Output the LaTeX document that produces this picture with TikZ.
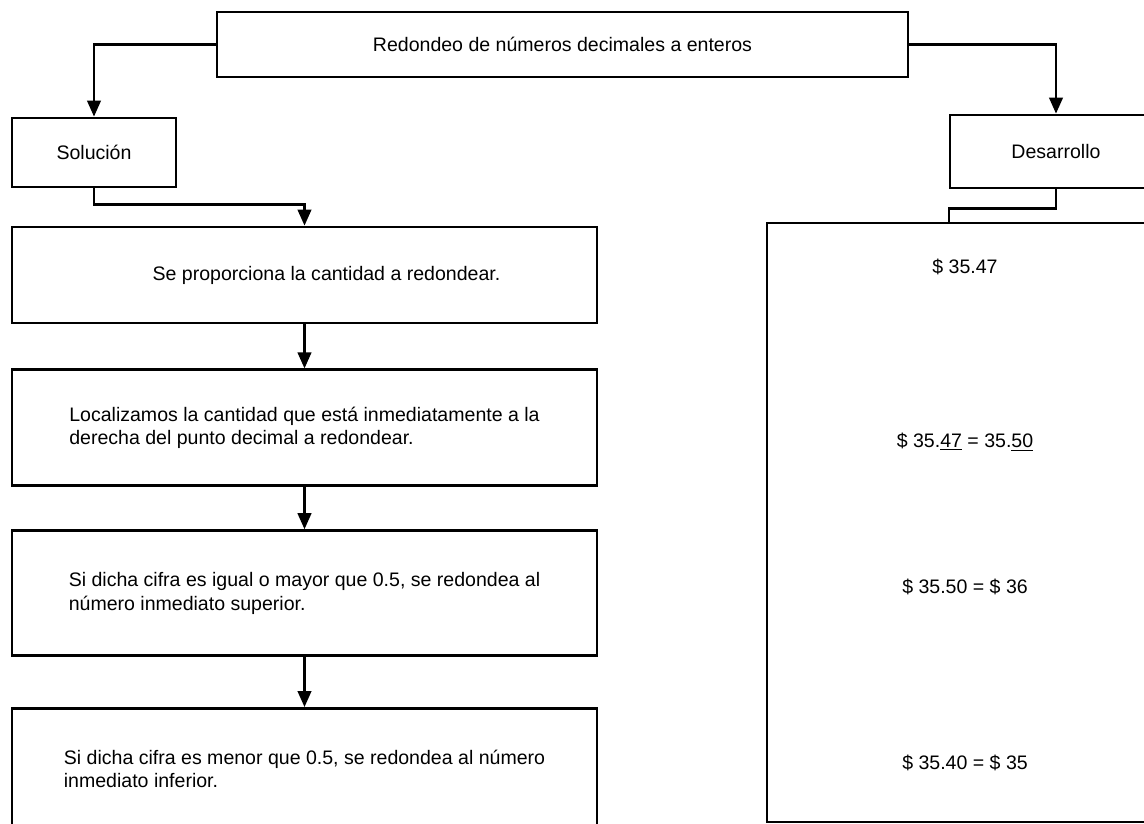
\documentclass[tikz,border=0pt]{standalone}
\usepackage{fontspec}
\setmainfont{Liberation Sans}
\usetikzlibrary{positioning, arrows.meta}

\begin{document}
\begin{tikzpicture}[
    node distance=1.1cm,
    font=\fontsize{13.9}{17}\selectfont,
    box/.style={
        draw,
        line width=2pt,
        align=center,
        inner sep=0pt
    },
    stepbox/.style={
        box,
        align=left,
        minimum width=14.625cm
    },
    value/.style={
        inner sep=1pt
    },
    arrow/.style={
        -{Triangle[length=0.4cm, width=0.34cm]},
        line width=1.6pt
    },
    link/.style={
        line width=1.6pt
    }
]

\useasboundingbox (0,0) rectangle (28.6,-20.575);

\node[box, minimum width=17.275cm, minimum height=1.625cm] (title) at (14.0625,-1.1125)
    {Redondeo de números decimales a enteros};

\node[box, minimum width=4.1cm, minimum height=1.725cm] (sol) at (2.35,-3.8125)
    {Solución};

\node[box, minimum width=5.3cm, minimum height=1.825cm] (des) at (26.4,-3.7875)
    {Desarrollo};

% pasos de la solucion
\node[stepbox, minimum height=2.4cm] (s1) at (7.6125,-6.875)
    {\hspace*{1.1cm}Se proporciona la cantidad a redondear.};

\node[stepbox, minimum height=2.9cm, below=of s1] (s2)
    {Localizamos la cantidad que está inmediatamente a la\\derecha del punto decimal a redondear.};

\node[stepbox, minimum height=3.125cm, below=1.05cm of s2] (s3)
    {Si dicha cifra es igual o mayor que 0.5, se redondea al\\número inmediato superior.};

\node[stepbox, minimum height=3.025cm, below=1.25cm of s3] (s4)
    {Si dicha cifra es menor que 0.5, se redondea al número\\inmediato inferior.};

% desarrollo
\node[box, minimum width=9.9cm, minimum height=14.975cm] (board) at (24.125,-13.0625) {};

\node[value] (v1) at (24.125,-6.675) {\$ 35.47};
\node[value] (v2) at (24.125,-11.05) {\$ 35.\underline{47} = 35.\underline{50}};
\node[value] (v3) at (24.125,-14.675) {\$ 35.50 = \$ 36};
\node[value] (v4) at (24.125,-19.075) {\$ 35.40 = \$ 35};

\coordinate (boardin) at (23.725,-5.575);

\draw[arrow] (title.west) -| (sol.north);
\draw[arrow] (title.east) -| (des.north);
\draw[arrow] (sol.south) -- ++(0,-0.4) -| (s1.north);
\draw[arrow] (s1) -- (s2);
\draw[arrow] (s2) -- (s3);
\draw[arrow] (s3) -- (s4);
\draw[link] (des.south) -- ++(0,-0.475) -| (boardin);

\end{tikzpicture}
\end{document}
